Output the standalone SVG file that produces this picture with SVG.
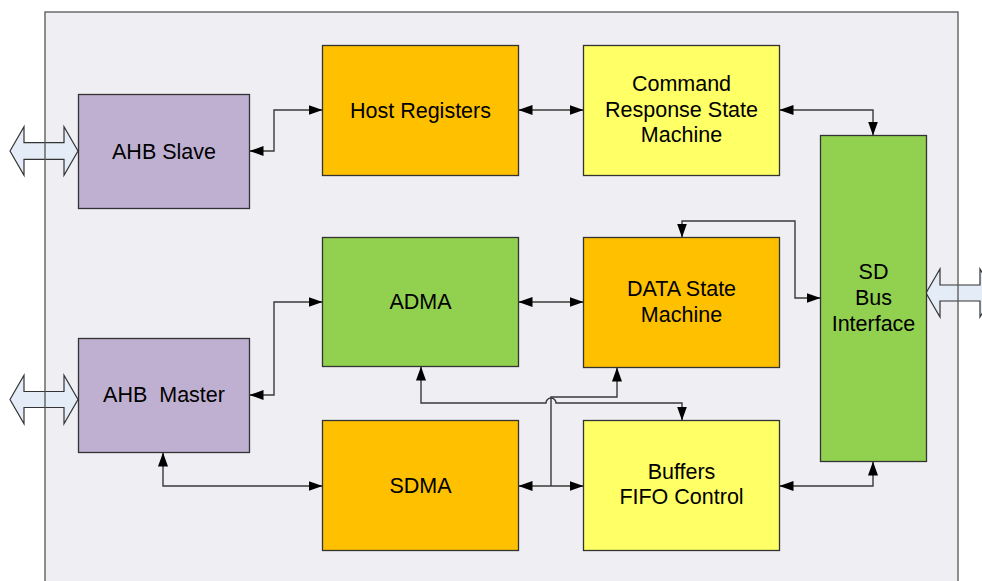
<svg xmlns="http://www.w3.org/2000/svg" width="982" height="581" viewBox="0 0 982 581">
<defs>
<marker id="a" viewBox="0 0 14 10" refX="14" refY="5" markerWidth="14" markerHeight="10" markerUnits="userSpaceOnUse" orient="auto-start-reverse"><path d="M0,0L14,5L0,10z" fill="#000"/></marker>
</defs>
<style>
.box{stroke:#333;stroke-width:1.3}
.purple{fill:#BFB0D2}
.orange{fill:#FFC000}
.yellow{fill:#FFFF66}
.green{fill:#92D050}
.t{font-family:"Liberation Sans",Arial,sans-serif;font-size:21.5px;fill:#000;text-anchor:middle}
.c{fill:none;stroke:#3a3a3a;stroke-width:1.4}
.bus{fill:#E4ECF7;stroke:#333;stroke-width:1.2}
</style>
<rect x="0" y="0" width="982" height="581" fill="#fff"/>
<rect x="45" y="12" width="913" height="600" fill="#EFEEF3"/>
<g id="busarrows">
<polygon class="bus" points="10,151 24,126.7 24,142.7 64,142.7 64,126.7 78,151 64,175.3 64,159.3 24,159.3 24,175.3"/>
<polygon class="bus" points="10,399.5 24,375.3 24,391.5 64,391.5 64,375.3 78,399.5 64,423.7 64,407.5 24,407.5 24,423.7"/>
<polygon class="bus" points="926,293 940,269 940,285 980,285 980,269 994,293 980,317 980,301 940,301 940,317"/>
</g>
<rect x="45" y="12" width="913" height="600" fill="none" stroke="#555" stroke-width="1.3"/>
<g id="ahb-slave"><rect class="box purple" x="78.5" y="94.5" width="171" height="114"/><text class="t" x="164" y="158.5">AHB Slave</text></g>
<g id="ahb-master"><rect class="box purple" x="78.5" y="338.5" width="171" height="114"/><text class="t" x="164" y="402" xml:space="preserve">AHB  Master</text></g>
<g id="host-registers"><rect class="box orange" x="322.5" y="45.5" width="196" height="130"/><text class="t" x="420.5" y="117.5">Host Registers</text></g>
<g id="cmd-resp"><rect class="box yellow" x="583.5" y="45.5" width="196" height="130"/><text class="t" x="681.5" y="91">Command</text><text class="t" x="681.5" y="117">Response State</text><text class="t" x="681.5" y="142">Machine</text></g>
<g id="adma"><rect class="box green" x="322.5" y="237.5" width="196" height="129"/><text class="t" x="420.5" y="309">ADMA</text></g>
<g id="data-sm"><rect class="box orange" x="583.5" y="237.5" width="196" height="130"/><text class="t" x="681.5" y="296">DATA State</text><text class="t" x="681.5" y="322">Machine</text></g>
<g id="sdma"><rect class="box orange" x="322.5" y="420.5" width="196" height="130"/><text class="t" x="420.5" y="492.5">SDMA</text></g>
<g id="buffers"><rect class="box yellow" x="583.5" y="420.5" width="196" height="130"/><text class="t" x="681.5" y="478.5">Buffers</text><text class="t" x="681.5" y="504">FIFO Control</text></g>
<g id="sd-bus"><rect class="box green" x="820.5" y="135.5" width="106" height="326"/><text class="t" x="873.5" y="278.5">SD</text><text class="t" x="873.5" y="305">Bus</text><text class="t" x="873.5" y="330.5">Interface</text></g>
<g id="connectors">
<path class="c" d="M249.5,151 L274,151 L274,110 L322.5,110" marker-start="url(#a)" marker-end="url(#a)"/>
<path class="c" d="M518.5,110 L583.5,110" marker-start="url(#a)" marker-end="url(#a)"/>
<path class="c" d="M779.5,110 L873,110 L873,135.5" marker-start="url(#a)" marker-end="url(#a)"/>
<path class="c" d="M249.5,395 L274,395 L274,302 L322.5,302" marker-start="url(#a)" marker-end="url(#a)"/>
<path class="c" d="M163,452.5 L163,486 L322.5,486" marker-start="url(#a)" marker-end="url(#a)"/>
<path class="c" d="M518.5,302 L583.5,302" marker-start="url(#a)" marker-end="url(#a)"/>
<path class="c" d="M820.5,298 L795,298 L795,221 L682,221 L682,237.5" marker-start="url(#a)" marker-end="url(#a)"/>
<path class="c" d="M518.5,486 L583.5,486" marker-start="url(#a)" marker-end="url(#a)"/>
<path class="c" d="M551,486 L551,397 L617,397 L617,367.5" marker-end="url(#a)"/>
<path class="c" d="M421,366.5 L421,403 L546,403 A5,5 0 0 1 556,403 L682,403 L682,420.5" marker-start="url(#a)" marker-end="url(#a)"/>
<path class="c" d="M779.5,486 L873,486 L873,461.5" marker-start="url(#a)" marker-end="url(#a)"/>
</g>
</svg>
